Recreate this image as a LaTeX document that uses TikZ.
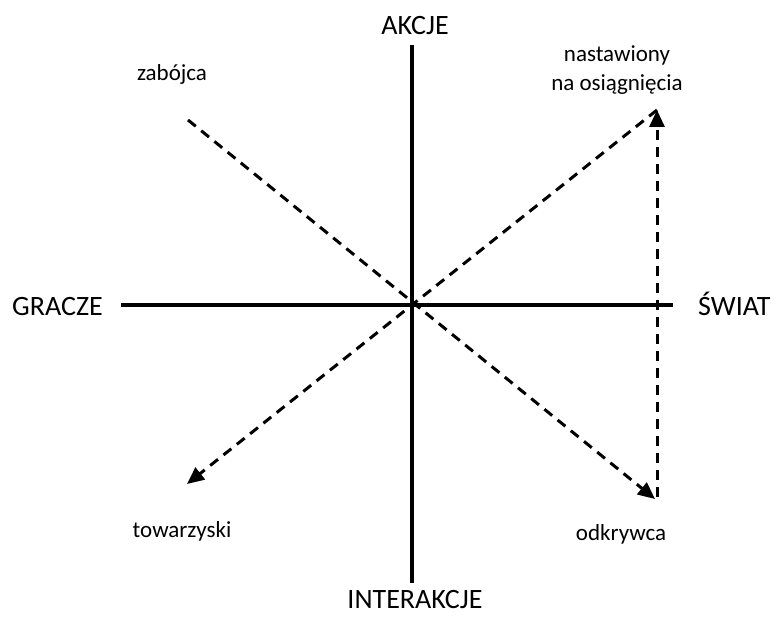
\documentclass[tikz,border=0pt]{standalone}
\usepackage{fontspec}
\setmainfont{Carlito}
\usetikzlibrary{arrows.meta}
\begin{document}
\begin{tikzpicture}[x=1pt,y=-1pt,
  axis/.style={line width=3.8pt},
  dashline/.style={line width=3pt,dash pattern=on 10pt off 7pt},
  tip/.style={-{Triangle[length=17pt,width=15pt]}},
  axislabel/.style={font=\fontsize{28}{32}\selectfont,inner sep=0pt,anchor=base},
  typelabel/.style={font=\fontsize{23}{31}\selectfont,inner sep=0pt,anchor=base,align=center}]
\useasboundingbox (0,0) rectangle (777,617);
% axis end points
\coordinate (top) at (412,45);
\coordinate (bottom) at (412,583);
\coordinate (left) at (121,305);
\coordinate (right) at (673,305);
% ends of the dashed lines
\coordinate (killer) at (188,120);
\coordinate (explorer) at (655,499);
\coordinate (achiever) at (657,110);
\coordinate (socializer) at (187,484);
\coordinate (explorerbase) at (657,497);
% axes
\draw[axis] (top) -- (bottom);
\draw[axis] (left) -- (right);
% dashed diagonals and the vertical arrow
\draw[dashline,tip] (killer) -- (explorer);
\draw[dashline,tip] (achiever) -- (socializer);
\draw[dashline,tip] (explorerbase) -- (achiever);
% axis labels
\node[axislabel] (akcje) at (415,35) {AKCJE};
\node[axislabel] (interakcje) at (415,608) {INTERAKCJE};
\node[axislabel,anchor=base west] (gracze) at (12,316) {GRACZE};
\node[axislabel,anchor=base west] (swiat) at (698,316) {ŚWIAT};
% player type labels
\node[typelabel] (nastawiony) at (617,61.5) {nastawiony};
\node[typelabel] (osiagniecia) at (617,90.5) {na osiągnięcia};
\node[typelabel] (zabojca) at (172,80.5) {zabójca};
\node[typelabel] (towarzyski) at (182,538) {towarzyski};
\node[typelabel] (odkrywca) at (621,540) {odkrywca};
\end{tikzpicture}
\end{document}
